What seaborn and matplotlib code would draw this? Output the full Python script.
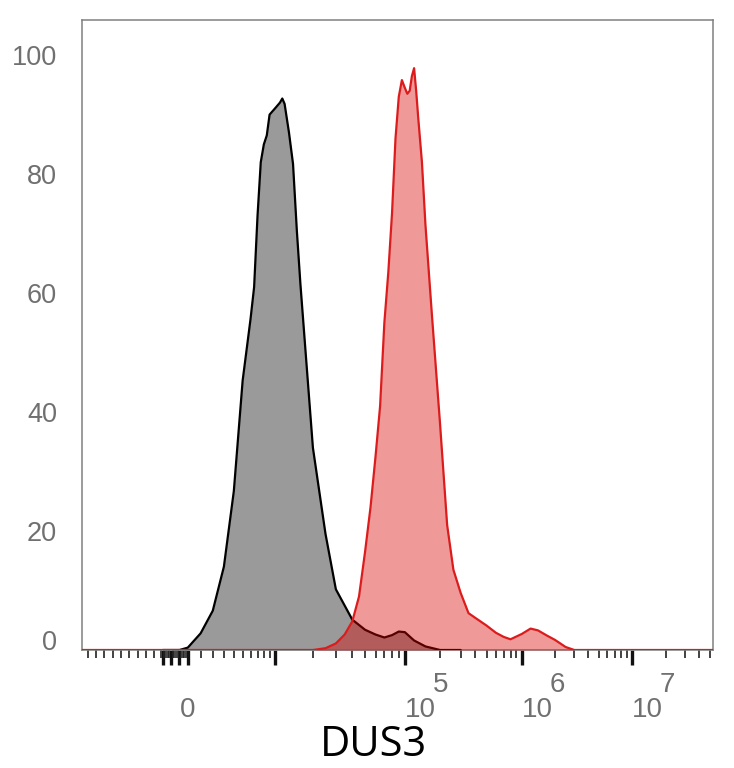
import numpy as np
import pandas as pd
import matplotlib
matplotlib.use("Agg")
import matplotlib.pyplot as plt
import seaborn as sns

# ---------------- data (fluorescence intensity vs. % of max) ----------------
gray_x = [-3000, -2000, -1000, 0, 1000, 2000, 3000, 4000, 5000, 6000, 6500, 7000,
          7500, 8000, 8500, 9000, 10000, 11000, 11500, 12000, 13000, 14000, 15000,
          16000, 18000, 20000, 25000, 30000, 40000, 50000, 60000, 70000, 80000,
          90000, 100000, 120000, 150000, 200000, 300000]
gray_y = [0, 0, 0, 0.4, 2.8, 6.6, 14, 26.7, 45.3, 55.6, 61, 73, 82, 85, 86.5, 90,
          91, 92, 92.7, 91.8, 87, 81.7, 70.5, 61.5, 47, 34, 19.5, 10.2, 5.1, 3.4,
          2.6, 2.1, 2.5, 3.1, 3.0, 1.6, 0.6, 0, 0]

red_x = [-12700, 20000, 25000, 30000, 35000, 40000, 45000, 50000, 55000, 60000,
         65000, 70000, 75000, 80000, 85000, 90000, 95000, 100000, 105000, 110000,
         115000, 120000, 125000, 130000, 140000, 150000, 170000, 200000, 230000,
         260000, 300000, 350000, 400000, 500000, 600000, 700000, 800000, 1000000,
         1200000, 1400000, 1700000, 2000000, 2500000, 3000000, 53000000]
red_y = [0, 0, 0.3, 1.1, 2.6, 4.8, 9, 16.5, 24, 32.5, 41, 55, 63.5, 73.4, 86, 93,
         95.8, 94.5, 93.5, 94, 96.5, 97.8, 94, 89.6, 82, 71.5, 56.6, 38, 21, 13.5,
         9.6, 6.2, 5.4, 4.1, 2.9, 2.2, 1.8, 2.7, 3.6, 3.3, 2.4, 1.7, 0.5, 0, 0]

y_ticks = [0, 20, 40, 60, 80, 100]
x_major = [-3000, -2000, -1000, 0, 1e4, 1e5, 1e6, 1e7]
x_major_labels = ["", "", "", "0", "", "10", "10", "10"]
exp_ticks = [1e5, 1e6, 1e7]
exp_labels = ["5", "6", "7"]
x_minor = ([-1000.0 * k for k in range(4, 13)]
           + [-200.0 * k for k in range(1, 17)]
           + [1000.0 * k for k in range(1, 10)]
           + [1e4 * k for k in range(2, 10)]
           + [1e5 * k for k in range(2, 10)]
           + [1e6 * k for k in range(2, 10)]
           + [1e7 * k for k in range(2, 6)])
x_label = "DUS3"

# ---------------- biexponential-like axis transform ----------------
W = 4200.0
NEG_K = 8.33 / 1000.0
ANCH_RAW = np.array([0, 1e4, 1e5, 1e6, 1e7, 1e8, 1e12])
ANCH_U = np.arcsinh(ANCH_RAW / W)
ANCH_P = np.array([0, 87, 217, 334, 444, 556, 1004], dtype=float)


def fwd(x):
    x = np.asarray(x, dtype=float)
    pos = np.interp(np.arcsinh(np.maximum(x, 0) / W), ANCH_U, ANCH_P)
    return np.where(x < 0, x * NEG_K, pos)


def inv(d):
    d = np.asarray(d, dtype=float)
    pos = W * np.sinh(np.interp(np.maximum(d, 0), ANCH_P, ANCH_U))
    return np.where(d < 0, d / NEG_K, pos)


sns.set_style("white")
plt.rcParams["font.family"] = ["Liberation Sans", "DejaVu Sans"]

fig = plt.figure(figsize=(7.34, 7.68), dpi=100)
ax = fig.add_axes([82 / 734, 1 - 650 / 768, 631 / 734, 630 / 768])
ax.set_xscale("function", functions=(fwd, inv))

gdf = pd.DataFrame({"x": gray_x, "y": gray_y})
rdf = pd.DataFrame({"x": red_x, "y": red_y})

ax.fill_between(gdf["x"], 0, gdf["y"], color="#9a9a9a", lw=0, zorder=2)
sns.lineplot(data=gdf, x="x", y="y", color="black", lw=1.6, ax=ax,
             estimator=None, sort=False, zorder=3)
ax.fill_between(rdf["x"], 0, rdf["y"], color=(0.85, 0.0, 0.0), alpha=0.4,
                lw=0, zorder=4)
sns.lineplot(data=rdf, x="x", y="y", color="#dc1c1c", lw=1.6, ax=ax,
             estimator=None, sort=False, zorder=5)

ax.set_xlim(-12700, 5.3e7)
ax.set_ylim(0, 105.9)

tick_col = "#707070"
ax.set_yticks(y_ticks)
ax.set_yticklabels([str(v) for v in y_ticks])
ax.tick_params(axis="y", length=0, pad=18, labelsize=19.5, labelcolor=tick_col)
for t in ax.get_yticklabels():
    if t.get_text() == "0":
        t.set_verticalalignment("baseline")

ax.set_xticks(x_major)
ax.set_xticklabels(x_major_labels)
ax.set_xticks(x_minor, minor=True)
ax.tick_params(axis="x", which="major", direction="out", length=11, width=2.4,
               color="#111111", pad=23, labelsize=20, labelcolor=tick_col,
               bottom=True)
ax.tick_params(axis="x", which="minor", direction="out", length=5.5, width=1.2,
               color="#222222", bottom=True)
for t in ax.get_xticklabels():
    if t.get_text() == "10":
        t.set_horizontalalignment("left")

for v, e in zip(exp_ticks, exp_labels):
    ax.annotate(e, xy=(v, 0), xycoords=("data", "axes fraction"),
                xytext=(20, -25), textcoords="offset points",
                ha="left", va="center", fontsize=20, color=tick_col)

ax.set_xlabel(x_label, fontsize=30, family=["Open Sans", "DejaVu Sans"],
              color="black", va="center")
ax.xaxis.set_label_coords((373 - 82) / 631, (650 - 745) / 630)
ax.set_ylabel("")

for s in ax.spines.values():
    s.set_color("#808080")
    s.set_linewidth(1.1)
    s.set_visible(True)

fig.savefig("out.png", dpi=100)
